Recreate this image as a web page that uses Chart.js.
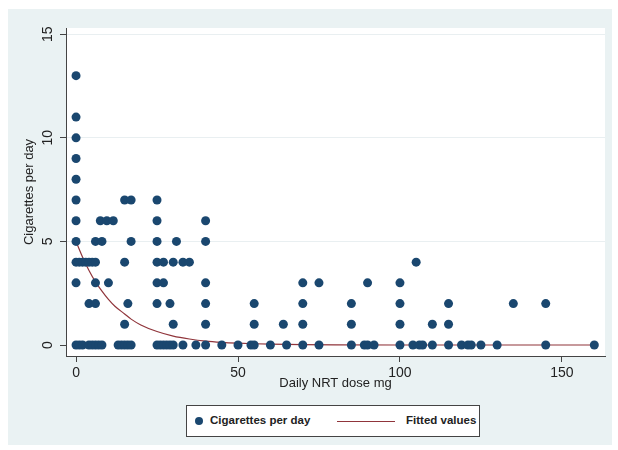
<!DOCTYPE html>
<html lang="en">
<head>
<meta charset="UTF-8">
<script src="https://cdn.jsdelivr.net/npm/chart.js"></script>
<style>
  html, body { margin: 0; padding: 0; background: #ffffff; width: 618px; height: 450px; overflow: hidden; }
  #panel { position: absolute; left: 8px; top: 9px; width: 604px; height: 436px; background: #eaf2f3; }
  #chart { position: absolute; left: 0; top: 0; }
  #legend {
    position: absolute; left: 178px; top: 396px; width: 294px; height: 32px;
    background: #fff; border: 1px solid #444; box-sizing: border-box; white-space: nowrap;
    font-family: "Liberation Sans", Arial, sans-serif; font-size: 11.5px; font-weight: bold; color: #222;
  }
  #legend .dot { position: absolute; left: 8px; top: 11px; width: 8px; height: 8px; border-radius: 50%; background: #1a476f; }
  #legend .t1 { position: absolute; left: 23px; top: 8px; }
  #legend .ln { position: absolute; left: 150px; top: 15px; width: 58px; height: 1px; background: #90353b; }
  #legend .t2 { position: absolute; left: 219px; top: 8px; }
</style>
</head>
<body>
<div id="panel">
  <canvas id="chart" width="604" height="436"></canvas>
  <div id="legend">
    <span class="dot"></span><span class="t1">Cigarettes per day</span>
    <span class="ln"></span><span class="t2">Fitted values</span>
  </div>
</div>
<script>
// observed points, grouped by cigarettes per day (y) -> NRT doses (x)
const dose0 = [0, 1, 2, 4, 5, 6, 7, 8, 13, 14, 15, 16, 17, 25, 26, 27, 28, 29, 30, 33, 37, 40, 45, 50, 54, 55, 60, 65, 70, 75, 85, 89, 90, 92, 100, 104, 106, 107, 110, 115, 119, 121, 122, 125, 130, 145, 160];
const dose1 = [15, 30, 40, 55, 64, 70, 85, 100, 110, 115];
const dose2 = [4, 6, 16, 25, 29, 40, 55, 70, 85, 100, 115, 135, 145];
const dose3 = [0, 6, 10, 25, 27, 40, 70, 75, 90, 100];
const dose4 = [0, 1, 2, 3, 4, 5, 6, 15, 25, 27, 30, 33, 35, 105];
const dose5 = [0, 6, 8, 17, 25, 31, 40];
const dose6 = [0, 7.5, 9.5, 11.5, 25, 40];
const dose7 = [0, 15, 17, 25];
const dose8 = [0];
const dose9 = [0];
const dose10 = [0];
const dose11 = [0];
const dose13 = [0];

// fitted curve
const fitDose = [0, 2, 4, 6, 8, 10, 12, 15, 17, 20, 25, 30, 35, 40, 45, 50, 55, 60, 70, 80, 100, 130, 160];
const fitCigs = [5.0, 4.25, 3.6, 3.05, 2.6, 2.2, 1.87, 1.5, 1.25, 0.97, 0.65, 0.43, 0.29, 0.19, 0.13, 0.09, 0.06, 0.04, 0.02, 0.01, 0, 0, 0];

const xTicks = [0, 50, 100, 150];
const yTicks = [0, 5, 10, 15];

const groups = [[0, dose0], [1, dose1], [2, dose2], [3, dose3], [4, dose4], [5, dose5], [6, dose6],
  [7, dose7], [8, dose8], [9, dose9], [10, dose10], [11, dose11], [13, dose13]];
const points = [];
groups.forEach(([cigs, doses]) => doses.forEach(d => points.push({ x: d, y: cigs })));
const fitted = fitDose.map((d, i) => ({ x: d, y: fitCigs[i] }));

const font = 'Liberation Sans, Arial, sans-serif';
const textColor = '#222';
const axisColor = '#444';

// white plot region
const plotBg = {
  id: 'plotBg',
  beforeDraw(chart) {
    const { ctx, chartArea: a } = chart;
    ctx.save();
    ctx.fillStyle = '#ffffff';
    ctx.fillRect(a.left, a.top, a.right - a.left, a.bottom - a.top);
    ctx.restore();
  }
};

new Chart(document.getElementById('chart'), {
  type: 'scatter',
  data: {
    datasets: [
      {
        label: 'Cigarettes per day',
        data: points,
        pointRadius: 4.5,
        pointBackgroundColor: '#1a476f',
        pointBorderWidth: 0,
        showLine: false
      },
      {
        label: 'Fitted values',
        type: 'line',
        data: fitted,
        borderColor: '#90353b',
        borderWidth: 1.2,
        pointRadius: 0,
        fill: false,
        cubicInterpolationMode: 'monotone'
      }
    ]
  },
  options: {
    responsive: false,
    animation: false,
    layout: { padding: { left: 0, top: 19, right: 7, bottom: 39 } },
    plugins: { legend: { display: false }, tooltip: { enabled: false } },
    scales: {
      x: {
        type: 'linear',
        min: -3.1,
        max: 163.3,
        afterBuildTicks: s => { s.ticks = xTicks.map(v => ({ value: v })); },
        afterFit: s => { s.height = 50; },
        border: { color: axisColor, width: 1 },
        grid: { drawOnChartArea: false, tickLength: 6, tickColor: axisColor },
        ticks: { font: { family: font, size: 14 }, color: textColor, padding: 3, maxRotation: 0 },
        title: { display: true, text: 'Daily NRT dose mg', font: { family: font, size: 13 }, color: textColor, padding: { top: 0, bottom: 15 } }
      },
      y: {
        min: -0.53,
        max: 15.3,
        afterBuildTicks: s => { s.ticks = yTicks.map(v => ({ value: v })); },
        afterFit: s => { s.width = 58; },
        border: { color: axisColor, width: 1 },
        grid: {
          tickLength: 6,
          tickColor: axisColor,
          color: c => (c.tick && c.tick.value === 0 ? 'rgba(0,0,0,0)' : '#e9eff1')
        },
        ticks: { font: { family: font, size: 14 }, color: textColor, padding: 4, minRotation: 90, maxRotation: 90, crossAlign: 'center' },
        title: { display: true, text: 'Cigarettes per day', font: { family: font, size: 13 }, color: textColor, padding: { top: 14, bottom: 0 } }
      }
    }
  },
  plugins: [plotBg]
});
</script>
</body>
</html>
